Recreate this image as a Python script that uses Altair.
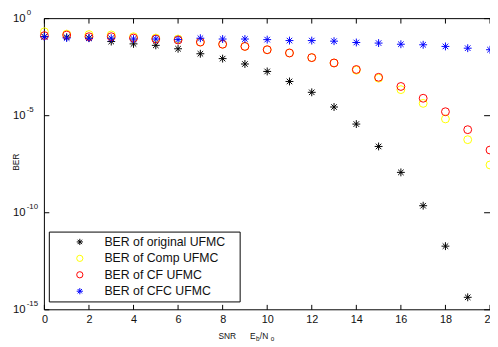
import altair as alt
import pandas as pd

# ---- data ----
snr = list(range(21))
ber_original = [0.117, 0.11, 0.1, 0.066, 0.05, 0.042, 0.028, 0.0155, 0.0087, 0.0046,
                0.0019, 5.8e-4, 1.6e-4, 2.8e-5, 3.7e-6, 2.6e-7, 1.2e-8, 2.3e-10, 1.9e-12, 4.4e-15]
ber_comp = [0.21, 0.16, 0.15, 0.145, 0.117, 0.1, 0.089, 0.062, 0.048, 0.037, 0.025,
            0.017, 0.0098, 0.0052, 0.0022, 8.5e-4, 2.2e-4, 4.3e-5, 6.8e-6, 5.8e-7, 2.9e-8]
ber_cf = [0.133, 0.143, 0.117, 0.117, 0.1, 0.089, 0.079, 0.062, 0.048, 0.037, 0.025,
          0.017, 0.0098, 0.0052, 0.0024, 9.5e-4, 3.2e-4, 7.9e-5, 1.6e-5, 1.9e-6, 1.7e-7]
ber_cfc = [0.117, 0.1, 0.098, 0.098, 0.089, 0.089, 0.083, 0.098, 0.089, 0.089, 0.083,
           0.074, 0.074, 0.069, 0.059, 0.055, 0.048, 0.045, 0.037, 0.030, 0.025]

series_names = ["BER of original UFMC", "BER of Comp UFMC", "BER of CF UFMC", "BER of CFC UFMC"]
series_colors = ["#000000", "#FFFF00", "#FF0000", "#0000FF"]

x_ticks = [0, 2, 4, 6, 8, 10, 12, 14, 16, 18, 20]
y_ticks = [1, 1e-5, 1e-10, 1e-15]
y_exps = ["0", "-5", "-10", "-15"]

ASTER = "M-1,0L1,0M0,-1L0,1M-0.7,-0.7L0.7,0.7M-0.7,0.7L0.7,-0.7"
series_shapes = [ASTER, "circle", "circle", ASTER]

rows = []
for name, vals in zip(series_names, [ber_original, ber_comp, ber_cf, ber_cfc]):
    for x, v in zip(snr, vals):
        rows.append({"snr": x, "ber": v, "series": name})
df = pd.DataFrame(rows)

W, H = 453, 296
FONT = "Liberation Sans"
TXT = "#111111"

xs = alt.Scale(domain=[0, 20], nice=False, zero=False)
ys = alt.Scale(type="log", domain=[1e-15, 1], nice=False)

points = alt.Chart(df).mark_point(filled=False, size=64, strokeWidth=1, opacity=1).encode(
    x=alt.X("snr:Q", scale=xs,
            axis=alt.Axis(values=x_ticks, ticks=False, domain=False, grid=False,
                          labelFont=FONT, labelFontSize=11, labelColor=TXT,
                          labelPadding=4, labelFlush=False, labelOverlap=False, title=None)),
    y=alt.Y("ber:Q", scale=ys, axis=None),
    color=alt.Color("series:N", scale=alt.Scale(domain=series_names, range=series_colors), legend=None),
    shape=alt.Shape("series:N", scale=alt.Scale(domain=series_names, range=series_shapes), legend=None),
)

one = pd.DataFrame({"a": [0]})
frame_left = alt.Chart(one).mark_rule(color="#000", strokeWidth=1).encode(
    x=alt.value(0), y=alt.value(0), y2=alt.value(H))
frame_top = alt.Chart(one).mark_rule(color="#000", strokeWidth=1).encode(
    x=alt.value(0), x2=alt.value(W + 5), y=alt.value(0))
frame_bot = alt.Chart(one).mark_rule(color="#000", strokeWidth=1).encode(
    x=alt.value(0), x2=alt.value(W + 5), y=alt.value(H))

xt = pd.DataFrame({"t": x_ticks})
xtick_b = alt.Chart(xt).mark_rule(color="#000").encode(
    x=alt.X("t:Q", scale=xs), y=alt.value(H - 5), y2=alt.value(H))
xtick_t = alt.Chart(xt).mark_rule(color="#000").encode(
    x=alt.X("t:Q", scale=xs), y=alt.value(0), y2=alt.value(5))

yt = pd.DataFrame({"v": y_ticks, "e": y_exps})
ytick_l = alt.Chart(yt).mark_rule(color="#000").encode(
    y=alt.Y("v:Q", scale=ys, axis=None), x=alt.value(0), x2=alt.value(5))
ytick_r = alt.Chart(yt).mark_rule(color="#000").encode(
    y=alt.Y("v:Q", scale=ys, axis=None), x=alt.value(W - 6), x2=alt.value(W))

ylab_base = alt.Chart(yt).mark_text(align="left", baseline="middle", font=FONT,
                                    fontSize=11.5, color=TXT).encode(
    y=alt.Y("v:Q", scale=ys, axis=None), x=alt.value(-32), text=alt.value("10"))
ylab_exp = alt.Chart(yt).mark_text(align="left", baseline="middle", font=FONT,
                                   fontSize=8, dy=-6, color=TXT).encode(
    y=alt.Y("v:Q", scale=ys, axis=None), x=alt.value(-18), text="e:N")

ytitle = alt.Chart(one).mark_text(angle=270, font=FONT, fontSize=8.5, color=TXT,
                                  baseline="middle", align="center").encode(
    x=alt.value(-29), y=alt.value(146), text=alt.value("BER"))

def t(txt, x, y, size, align="left", color=TXT):
    return alt.Chart(one).mark_text(font=FONT, fontSize=size, color=color,
                                    baseline="middle", align=align).encode(
        x=alt.value(x), y=alt.value(y), text=alt.value(txt))

xt_snr = t("SNR", 177, 323, 8.5)
xt_e = t("E", 209, 323, 8.5)
xt_b = t("b", 215, 325.5, 6.5)
xt_n = t("/N", 219, 323, 8.5)
xt_o = t("o", 230, 325.5, 6.5)

# legend (drawn by hand, MATLAB style)
LX, LY, LW, LH = 5, 217, 194, 71
leg_box = alt.Chart(one).mark_rect(fill="#ffffff", stroke="#000000", strokeWidth=1).encode(
    x=alt.value(LX), x2=alt.value(LX + LW), y=alt.value(LY), y2=alt.value(LY + LH))
leg_layers = [leg_box]
for i, (name, col, shp) in enumerate(zip(series_names, series_colors, series_shapes)):
    yy = 227 + i * 16.7
    leg_layers.append(alt.Chart(one).mark_point(filled=False, size=40, strokeWidth=1, opacity=1,
                                                color=col, shape=shp).encode(
        x=alt.value(36), y=alt.value(yy)))
    leg_layers.append(t(name, 61, yy, 12.5))

chart = alt.layer(
    frame_left, frame_top, frame_bot, xtick_b, xtick_t, ytick_l, ytick_r,
    points, ylab_base, ylab_exp, ytitle, xt_snr, xt_e, xt_b, xt_n, xt_o,
    *leg_layers
).properties(
    width=W, height=H,
    autosize=alt.AutoSizeParams(type="none"),
    padding={"left": 37, "top": 8, "right": 0, "bottom": 34},
    background="#ffffff",
).configure_view(stroke=None)

chart.save("out.html", embed_options={"renderer": "svg", "actions": False})
